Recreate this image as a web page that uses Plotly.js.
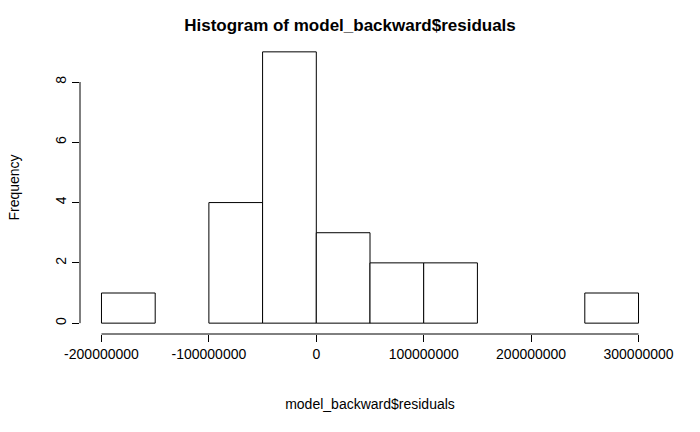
<!DOCTYPE html>
<html>
<head>
<script src="https://cdn.plot.ly/plotly-3.0.1.min.js"></script>
<style>body{margin:0;background:#fff}</style>
</head>
<body>
<div id="chart" style="width:700px;height:432px"></div>
<script>
// histogram bins (left edges) and counts
const binStarts = [-200e6, -150e6, -100e6, -50e6, 0, 50e6, 100e6, 150e6, 200e6, 250e6]
const counts = [1, 0, 4, 9, 3, 2, 2, 0, 0, 1]
const binWidth = 50e6
const xTicks = [-200e6, -100e6, 0, 100e6, 200e6, 300e6]
const xTickLabels = ['-200000000', '-100000000', '0', '100000000', '200000000', '300000000']
const yTicks = [0, 2, 4, 6, 8]

const font = {family: 'Liberation Sans, Arial, sans-serif', size: 14, color: '#000'}

const trace = {
  type: 'bar',
  x: binStarts.map(b => b + binWidth / 2),
  y: counts.map(c => c === 0 ? null : c),
  width: binWidth,
  marker: {color: '#fff', line: {color: '#000', width: 1}},
  hoverinfo: 'x+y',
}

const layout = {
  width: 700, height: 432,
  margin: {l: 80, r: 40, t: 41, b: 98},
  paper_bgcolor: '#fff', plot_bgcolor: '#fff',
  font: font,
  showlegend: false,
  title: {text: '<b>Histogram of model_backward$residuals</b>', x: 0.5, xanchor: 'center', y: 0.955, font: {family: font.family, size: 17}},
  xaxis: {
    range: [-220e6, 320e6], showgrid: false, zeroline: false, showline: false,
    tickmode: 'array', tickvals: xTicks, ticktext: xTickLabels,
    ticks: 'outside', ticklen: 7, tickcolor: '#000',
    title: {text: 'model_backward$residuals', standoff: 38, font: font},
  },
  yaxis: {
    range: [-0.36, 9.36], showgrid: false, zeroline: false, showline: false,
    tickmode: 'array', tickvals: yTicks, tickangle: -90,
    ticks: 'outside', ticklen: 7, tickcolor: '#000',
    title: {text: 'Frequency', standoff: 30, font: font},
  },
  shapes: [
    {type: 'line', xref: 'x', yref: 'paper', x0: xTicks[0], x1: xTicks[xTicks.length - 1], y0: 0, y1: 0, line: {color: '#000', width: 1}},
    {type: 'line', xref: 'paper', yref: 'y', x0: 0, x1: 0, y0: yTicks[0], y1: yTicks[yTicks.length - 1], line: {color: '#000', width: 1}},
  ],
}

Plotly.newPlot('chart', [trace], layout, {displayModeBar: false})
</script>
</body>
</html>
